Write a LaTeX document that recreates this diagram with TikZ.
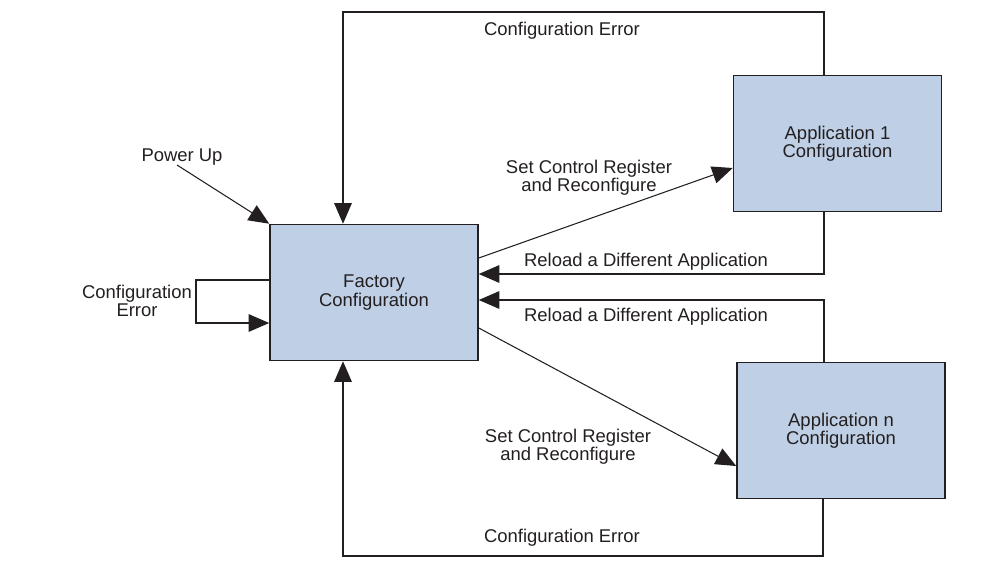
\documentclass[tikz,border=0pt]{standalone}
\usepackage{fontspec}
\setmainfont{Liberation Sans}
\usepackage{xcolor}
\usetikzlibrary{arrows.meta,calc}
\definecolor{cfgblue}{RGB}{191,207,229}
\definecolor{inkgray}{RGB}{35,31,32}

\begin{document}
\begin{tikzpicture}[x=0.02cm,y=-0.02cm,font=\fontsize{10.5}{10.4}\selectfont,text=inkgray,
  cfgbox/.style={draw=inkgray,line width=0.9pt,fill=cfgblue,align=center,minimum width=4.16cm,minimum height=2.72cm},
  lbl/.style={align=center,inner sep=1pt},
  arr/.style={draw=inkgray,line width=0.6pt,-{Triangle[length=0.41cm,width=0.35cm]}}]
\useasboundingbox (0,0) rectangle (1005,569);
\node[cfgbox] (factory) at (374,292.5) {Factory\\Configuration};
\node[cfgbox] (app1) at (837.5,143.5) {Application 1\\Configuration};
\node[cfgbox] (appn) at (841,430.5) {Application n\\Configuration};
\node[lbl] (powerup) at (182,157) {Power Up};
\node[lbl] (selferr) at (137,301) {Configuration\\Error};
\foreach \nm/\yy in {toperr/31,boterr/538}{\node[lbl] (\nm) at (562,\yy) {Configuration Error};}
\node[lbl] (setup) at (589,178) {Set Control Register\\and Reconfigure};
\node[lbl] (setdown) at (568,447) {Set Control Register\\and Reconfigure};
\node[lbl] (reloadup) at (646,262) {Reload a Different Application};
\node[lbl] (reloaddown) at (646,317) {Reload a Different Application};
\coordinate (pwrtail) at (177,165);
\draw[arr] (pwrtail) -- (factory.north west);
\draw[arr] (factory.west |- 0,280) -- (196,280) -- (196,323) -- (factory.west |- 0,323);
\draw[arr] (app1.north -| 824,0) -- (824,12) -| (factory.north -| 343,0);
\draw[arr] (appn.south -| 823,0) -- (823,556) -| (factory.south -| 343,0);
\draw[arr] (app1.south -| 824,0) |- (factory.east |- 0,274);
\draw[arr] (appn.north -| 824,0) |- (factory.east |- 0,300);
\draw[arr] (factory.east |- 0,258) -- (app1.west |- 0,168);
\draw[arr] (factory.east |- 0,328) -- (appn.west |- 0,466);
\end{tikzpicture}
\end{document}
